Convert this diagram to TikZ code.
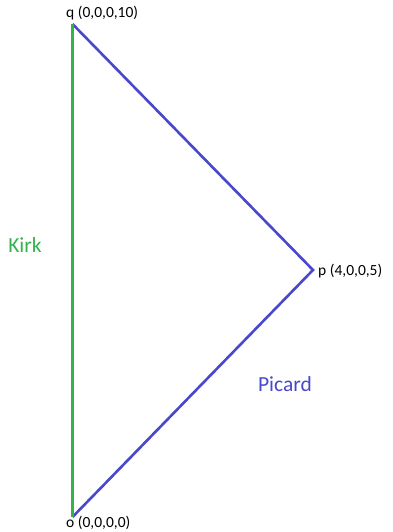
\documentclass[tikz,border=0pt]{standalone}
\usepackage{fontspec}
\setmainfont{Carlito}
\definecolor{kgreen}{RGB}{52,178,76}
\definecolor{pblue}{RGB}{72,72,204}
\begin{document}
\begin{tikzpicture}[x=1pt,y=-1pt,
  lbl/.style={font=\fontsize{15.5}{17}\selectfont, inner sep=0pt},
  big/.style={font=\fontsize{21.5}{24}\selectfont, inner sep=0pt},
  pt/.style={inner sep=0pt, minimum size=0pt}]
\useasboundingbox (0,0) rectangle (392,532);
\coordinate (q) at (72.5,24);
\coordinate (p) at (313,270);
\coordinate (o) at (72.5,517);
\draw[pblue, line width=2.6pt, line join=miter] (q) -- (p) -- (o);
\draw[kgreen, line width=3pt] (q) -- (o);
\node[lbl, anchor=west] (ql) at (66,13) {q (0,0,0,10)};
\node[lbl, anchor=west] (pl) at (318,271) {p (4,0,0,5)};
\node[lbl, anchor=west] (ol) at (66,523) {o (0,0,0,0)};
\node[big, text=kgreen] (kirk) at (25,245) {Kirk};
\node[big, text=pblue] (picard) at (285,384) {Picard};
\end{tikzpicture}
\end{document}
